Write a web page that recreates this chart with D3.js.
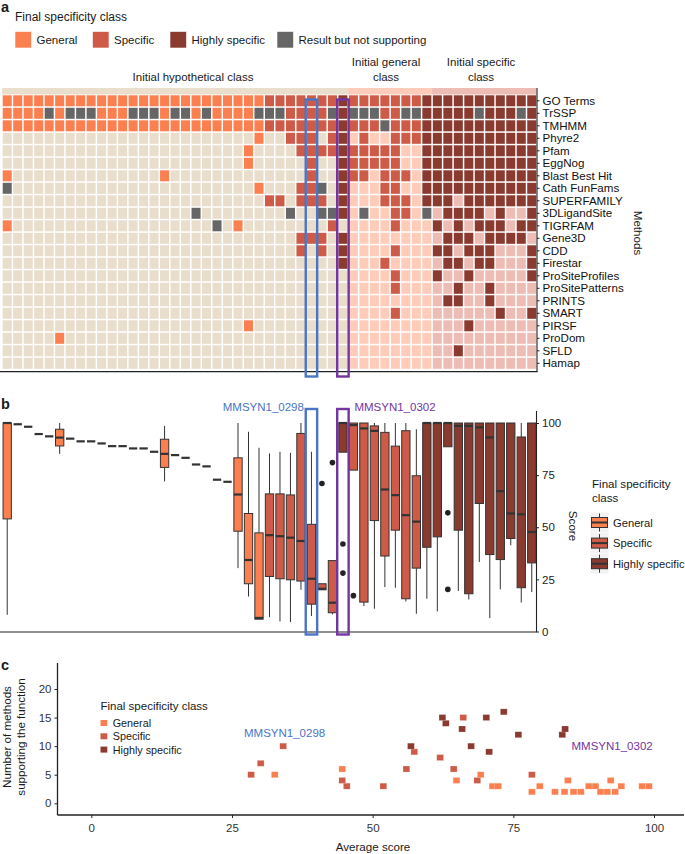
<!DOCTYPE html>
<html><head><meta charset="utf-8">
<script src="https://cdn.jsdelivr.net/npm/d3@7"></script>
<style>
body{margin:0;background:#fff}
svg{display:block}
text{font-family:"Liberation Sans",Arial,Helvetica,sans-serif}
</style>
</head><body>
<svg id="chart" width="685" height="854"></svg>
<script>
// ---------------- DATA ----------------
const methods = ["GO Terms","TrSSP","TMHMM","Phyre2","Pfam","EggNog","Blast Best Hit","Cath FunFams","SUPERFAMILY","3DLigandSite","TIGRFAM","Gene3D","CDD","Firestar","ProSiteProfiles","ProSitePatterns","PRINTS","SMART","PIRSF","ProDom","SFLD","Hamap"];
// final specificity class per protein (column): g = General, s = Specific, h = Highly specific
const finalClass = "gggggggggggggggggggggggggssssssshssssssshhhhhhhhhhh".split("");
const groupNames = [["Initial hypothetical class"],["Initial general","class"],["Initial specific","class"]];
const groupSizes = [33, 8, 10];
// heatmap: 1 = method supports (coloured by final class), x = result but not supporting, . = no result
const heatRows = [
  "111111111111111111111111111111111111111111111111111",
  "1111x1xxx111xxx1xx1x1111xxx1111x1xxx11xx11111x111x1",
  "111111111111111111111111111111111111x11111111111111",
  "........................1..111.11.1..11111111111111",
  ".......................1....1111111111..11111111111",
  ".......................1.....1..111111..11111111111",
  "1..............1.............1..111.111.11111111111",
  "x.......................1...11x.1...11..11111111111",
  ".........................11.111.1...111.111.1111111",
  "..................x........x..xx1.x..11.x.1111.1..1",
  "1...................x.1........1.....1...1.1.111.11",
  "............................111.1.........111.1111.",
  "............................1.1.1....1...11.111...1",
  "................................1...1.....11.11...1",
  ".....................................1...1..1.....1",
  ".....................................1.....1..1....",
  "..........................................11..1....",
  ".....................................1.........1..1",
  ".......................1....................1......",
  ".....1.............................................",
  "...........................................1.......",
  "..................................................."
];
// panel b boxplot statistics (score) per protein
const boxLow  = [8,99.4,98.2,94.7,93.6,85.2,92.5,91.2,91.2,90.2, 88.9,88.9,87.8,87.8,86.2,72,84.6,83.3,80.1,79.2, 72.8,71.8,30.4,16.8,5.9,6.9,4.8,4.5,20,7.4, 20,8.2,86,77.4,12.2,10.9,21.3,21,14.4,8.5, 15.7,9.6,88.6,19.4,15.4,33.3,6.4,20.2,41.3,13.9,18.9];
const boxQ1   = [54,99.4,98.2,94.7,93.6,89,92.5,91.2,91.2,90.2, 88.9,88.9,87.8,87.8,86.2,78.7,84.6,83.3,80.1,79.2, 72.8,71.8,48.1,22.9,5.9,26.4,25.3,24.8,24.2,13.1, 20,9,86,77.4,14.1,53.2,36.2,48.6,15.7,30.4, 40.4,45.4,88.6,48.6,18.1,61.4,36.9,34.5,44.6,21,32.9];
const boxMed  = [100,99.4,98.2,94.7,93.6,93,92.5,91.2,91.2,90.2, 88.9,88.9,87.8,87.8,86.2,85.2,84.6,83.3,80.1,79.2, 72.8,71.8,65.7,34.3,6.5,46.2,45.7,45,43.4,25.3, 20.5,13.8,100,99,97.4,96.2,68.1,65.4,55.8,52.7, 100,100,100,98.6,98.6,97.9,93.1,67.3,56.6,56.2,47.7];
const boxQ3   = [100,99.4,98.2,94.7,93.6,97,92.5,91.2,91.2,90.2, 88.9,88.9,87.8,87.8,86.2,92.2,84.6,83.3,80.1,79.2, 72.8,71.8,83.3,56.6,47.3,66,66,65.5,95,51.4, 22.9,34,100,100,100,98.6,95.5,88.9,96.3,74.7, 100,100,100,100,100,100,100,100,100,93.3,100];
const boxHigh = [100,99.4,98.2,94.7,93.6,100,92.5,91.2,91.2,90.2, 88.9,88.9,87.8,87.8,86.2,98.6,84.6,83.3,80.1,79.2, 72.8,71.8,100,95.8,88.1,85.4,86.2,85.7,100,86.2, 22.9,34,100,100,100,100,100,100,100,97, 100,100,100,100,100,100,100,100,100,100,100];
const outlierCol = [30,31,32,32,33,42,42];
const outlierVal = [71,81,42,28,17.2,56.9,20.2];
// panel c scatter: average score vs number of supporting methods
const scatterX = [32.6,44.6,64.9,69.2,71.3,72.3,78.3,79.7,82.4,84.1,84.7,85.7,87,88.4,89.6,90.5,91.7,92.3,93.1,94.2,97.9,99.1,
                  28.4,30.1,34.1,44.6,45.4,51.9,56,57.4,62,64.4,66.1,68.6,78.3,
                  56.8,62.4,63,65.9,67.5,70.2,70.7,73.3,75.9,83.7,84.2];
const scatterY = [5,6,4,5,3,3,2,3,2,2,4,2,2,3,3,2,2,4,2,3,3,3,
                  5,7,10,4,3,3,6,9,8,6,15,4,5,
                  10,15,14,13,10,15,9,16,12,12,13];
const scatterClass = "gggggggggggggggggggggg".split("").concat("sssssssssssss".split(""), "hhhhhhhhhhh".split(""));
const highlightCols = [29, 32];
const highlightLabels = ["MMSYN1_0298", "MMSYN1_0302"];
const classKeys = ["g","s","h"];
const classNames = ["General","Specific","Highly specific"];
const yTicksB = [0,25,50,75,100];
const xTicksC = [0,25,50,75,100];
const yTicksC = [0,5,10,15,20];

// ---------------- STYLE ----------------
const classColor = {g:"#FC7F50", s:"#CD5B47", h:"#8A3A2F"};
const greyColor = "#666666";
const emptyColor = ["#E9DDCC","#FFCCBA","#EDBCB5"];
const hlColor = ["#4A74C6","#7434A2"];
const ink = "#222";
const txt = "#1a1a1a";

const svg = d3.select("#chart");
const T = (sel)=>sel.style("fill",txt);
const nCol = finalClass.length;
const cols = d3.range(nCol);
const groupOf = [];
groupSizes.forEach((n,gi)=>{for(let k=0;k<n;k++) groupOf.push(gi);});

const x = d3.scaleBand().domain(cols).range([1.97,537.0]).paddingInner(0.14).paddingOuter(0.07);
const y = d3.scaleBand().domain(methods).range([94.55,369.55]).paddingInner(0.12).paddingOuter(0.06);

// ---------- Panel a ----------
T(svg.append("text").attr("x",1).attr("y",12).attr("font-size",14.5).attr("font-weight","bold").text("a"));
T(svg.append("text").attr("x",15).attr("y",21).attr("font-size",12).text("Final specificity class"));
const legA = [{k:"g",t:"General",x:15},{k:"s",t:"Specific",x:92.5},{k:"h",t:"Highly specific",x:170},{k:"x",t:"Result but not supporting",x:277}];
legA.forEach(d=>{
  svg.append("rect").attr("x",d.x).attr("y",31.5).attr("width",16.5).attr("height",16.5)
    .attr("fill", d.k==="x"?greyColor:classColor[d.k]).attr("stroke","#fff").attr("stroke-width",0.6);
  T(svg.append("text").attr("x",d.x+21.5).attr("y",44).attr("font-size",11.5).text(d.t));
});

// group bands
const labelCenters = [193, 386, 481];
let start = 0;
groupSizes.forEach((n,gi)=>{
  const x0 = gi===0 ? 2 : x(start) - 0.75;
  const x1 = gi===groupSizes.length-1 ? 536.5 : x(start+n-1) + x.bandwidth() + 0.75;
  svg.append("rect").attr("x",x0).attr("y",88).attr("width",x1-x0).attr("height",6.5).attr("fill",emptyColor[gi]);
  const lines = groupNames[gi];
  lines.forEach((ln,li)=>{
    T(svg.append("text").attr("x",labelCenters[gi]).attr("y", 81 - (lines.length-1-li)*15).attr("text-anchor","middle").attr("font-size",11.5).text(ln));
  });
  start += n;
});

// cells
const cellData = [];
methods.forEach((m,ri)=>{ cols.forEach(c=>{ cellData.push({m, c, v: heatRows[ri][c]}); }); });
svg.append("g").selectAll("rect").data(cellData).join("rect")
  .attr("x",d=>x(d.c)).attr("y",d=>y(d.m)).attr("width",x.bandwidth()).attr("height",y.bandwidth())
  .attr("fill",d=> d.v==="1" ? classColor[finalClass[d.c]] : d.v==="x" ? greyColor : emptyColor[groupOf[d.c]]);

// axes lines panel a
svg.append("line").attr("x1",0).attr("x2",537.5).attr("y1",371.6).attr("y2",371.6).attr("stroke",ink).attr("stroke-width",1.1);
svg.append("line").attr("x1",537).attr("x2",537).attr("y1",88).attr("y2",372).attr("stroke",ink).attr("stroke-width",1.1);
const yAx = d3.axisRight(y).tickSize(2.5).tickPadding(3);
const gy = svg.append("g").attr("transform","translate(537,0)").call(yAx);
gy.select(".domain").remove();
gy.selectAll(".tick line").attr("stroke",ink);
gy.selectAll(".tick text").attr("font-size",11.6).style("fill","#111").attr("font-family","'Liberation Sans',Arial,sans-serif");
T(svg.append("text").attr("transform","translate(634,233) rotate(90)").attr("text-anchor","middle").attr("font-size",11.6).text("Methods"));

// highlight boxes a
highlightCols.forEach((c,i)=>{
  svg.append("rect").attr("x",x(c)-1.2).attr("y",99.5).attr("width",x.bandwidth()+2.4).attr("height",277)
    .attr("fill","none").attr("stroke",hlColor[i]).attr("stroke-width",2.4);
});

// ---------- Panel b ----------
const yb = d3.scaleLinear().domain([0,100]).range([631.5,423]);
T(svg.append("text").attr("x",1).attr("y",409).attr("font-size",14.5).attr("font-weight","bold").text("b"));
const bw = 8.3;
const gb = svg.append("g");
cols.forEach(c=>{
  const cx = x(c) + x.bandwidth()/2;
  const g = gb.append("g");
  if (boxHigh[c] > boxQ3[c]) g.append("line").attr("x1",cx).attr("x2",cx).attr("y1",yb(boxHigh[c])).attr("y2",yb(boxQ3[c])).attr("stroke","#333").attr("stroke-width",1);
  if (boxLow[c] < boxQ1[c]) g.append("line").attr("x1",cx).attr("x2",cx).attr("y1",yb(boxQ1[c])).attr("y2",yb(boxLow[c])).attr("stroke","#333").attr("stroke-width",1);
  g.append("rect").attr("x",cx-bw/2).attr("y",yb(boxQ3[c])).attr("width",bw).attr("height",Math.max(0,yb(boxQ1[c])-yb(boxQ3[c])))
    .attr("fill",classColor[finalClass[c]]).attr("stroke","#333").attr("stroke-width",1);
  g.append("line").attr("x1",cx-bw/2).attr("x2",cx+bw/2).attr("y1",yb(boxMed[c])).attr("y2",yb(boxMed[c])).attr("stroke","#333").attr("stroke-width",2.2);
});
gb.selectAll("circle.out").data(outlierCol.map((c,i)=>({c, v:outlierVal[i]}))).join("circle")
  .attr("cx",d=>x(d.c)+x.bandwidth()/2).attr("cy",d=>yb(d.v)).attr("r",2.8).attr("fill","#222");
svg.append("line").attr("x1",0).attr("x2",537).attr("y1",632).attr("y2",632).attr("stroke",ink).attr("stroke-width",1.1);
const axB = svg.append("g").attr("transform","translate(536.5,0)").call(d3.axisRight(yb).tickValues(yTicksB).tickSize(2.5).tickPadding(3));
axB.select(".domain").attr("d","M0,411V632").attr("stroke",ink).attr("stroke-width",1.1);
axB.selectAll(".tick line").attr("stroke",ink);
axB.selectAll(".tick text").attr("font-size",11.5).style("fill","#222").attr("font-family","'Liberation Sans',Arial,sans-serif");
T(svg.append("text").attr("transform","translate(569,526) rotate(90)").attr("text-anchor","middle").attr("font-size",11.6).text("Score"));
highlightCols.forEach((c,i)=>{
  svg.append("rect").attr("x",x(c)-1.2).attr("y",409).attr("width",x.bandwidth()+2.4).attr("height",225.5)
    .attr("fill","none").attr("stroke",hlColor[i]).attr("stroke-width",2.4);
});
svg.append("text").attr("x",x(29)-3).attr("y",411).attr("text-anchor","end").attr("font-size",11.5).style("fill",hlColor[0]).text(highlightLabels[0]);
svg.append("text").attr("x",x(32)+x.bandwidth()+7).attr("y",411).attr("font-size",11.5).style("fill",hlColor[1]).text(highlightLabels[1]);
// legend b
T(svg.append("text").attr("x",592).attr("y",488).attr("font-size",11.6).text("Final specificity"));
T(svg.append("text").attr("x",592).attr("y",501.5).attr("font-size",11.6).text("class"));
classKeys.forEach((k,i)=>{
  const cy = 522.5 + i*20.6;
  svg.append("rect").attr("x",590.5).attr("y",cy-10).attr("width",18).attr("height",20).attr("fill","#f2f2f2");
  svg.append("line").attr("x1",599.5).attr("x2",599.5).attr("y1",cy-9).attr("y2",cy+9).attr("stroke","#333").attr("stroke-width",1);
  svg.append("rect").attr("x",591.5).attr("y",cy-5).attr("width",16).attr("height",10).attr("fill",classColor[k]).attr("stroke","#333").attr("stroke-width",1);
  svg.append("line").attr("x1",591.5).attr("x2",607.5).attr("y1",cy).attr("y2",cy).attr("stroke","#333").attr("stroke-width",2);
  T(svg.append("text").attr("x",613).attr("y",cy+4).attr("font-size",11.2).text(classNames[i]));
});

// ---------- Panel c ----------
const xs = d3.scaleLinear().domain([0,100]).range([91.3,654]);
const ys = d3.scaleLinear().domain([0,20]).range([803.3,689]);
T(svg.append("text").attr("x",1).attr("y",670).attr("font-size",14.5).attr("font-weight","bold").text("c"));
const axX = svg.append("g").attr("transform","translate(0,815)").call(d3.axisBottom(xs).tickValues(xTicksC).tickSize(3).tickPadding(6));
axX.select(".domain").attr("d","M57.5,0H684").attr("stroke",ink).attr("stroke-width",1.3);
axX.selectAll(".tick line").attr("stroke",ink);
axX.selectAll(".tick text").attr("font-size",11.5).style("fill","#333").attr("font-family","'Liberation Sans',Arial,sans-serif");
const axY = svg.append("g").attr("transform","translate(57.5,0)").call(d3.axisLeft(ys).tickValues(yTicksC).tickSize(3).tickPadding(3));
axY.select(".domain").attr("d","M0,663V815").attr("stroke",ink).attr("stroke-width",1.3);
axY.selectAll(".tick line").attr("stroke",ink);
axY.selectAll(".tick text").attr("font-size",11.5).style("fill","#333").attr("font-family","'Liberation Sans',Arial,sans-serif");
T(svg.append("text").attr("x",373).attr("y",851).attr("text-anchor","middle").attr("font-size",11.6).text("Average score"));
T(svg.append("text").attr("transform","translate(11,737) rotate(-90)").attr("text-anchor","middle").attr("font-size",11.6).text("Number of methods"));
T(svg.append("text").attr("transform","translate(24.5,737) rotate(-90)").attr("text-anchor","middle").attr("font-size",11.6).text("supporting the function"));
const sqW = 6.8, sqH = 6;
svg.append("g").selectAll("rect").data(scatterX.map((v,i)=>({x:v,y:scatterY[i],k:scatterClass[i]}))).join("rect")
  .attr("x",d=>xs(d.x)-sqW/2).attr("y",d=>ys(d.y)-sqH/2).attr("width",sqW).attr("height",sqH)
  .attr("fill",d=>classColor[d.k]).attr("stroke","#fff").attr("stroke-opacity",0.4).attr("stroke-width",0.5);
svg.append("text").attr("x",244).attr("y",737).attr("font-size",11.5).style("fill",hlColor[0]).text(highlightLabels[0]);
svg.append("text").attr("x",571.5).attr("y",750).attr("font-size",11.5).style("fill",hlColor[1]).text(highlightLabels[1]);
T(svg.append("text").attr("x",100.5).attr("y",709.5).attr("font-size",11.5).text("Final specificity class"));
classKeys.forEach((k,i)=>{
  const cy = 723 + i*13.3;
  svg.append("rect").attr("x",100.5).attr("y",cy-3).attr("width",6.8).attr("height",6).attr("fill",classColor[k]);
  T(svg.append("text").attr("x",112.7).attr("y",cy+4).attr("font-size",10.8).text(classNames[i]));
});
</script>
</body></html>
